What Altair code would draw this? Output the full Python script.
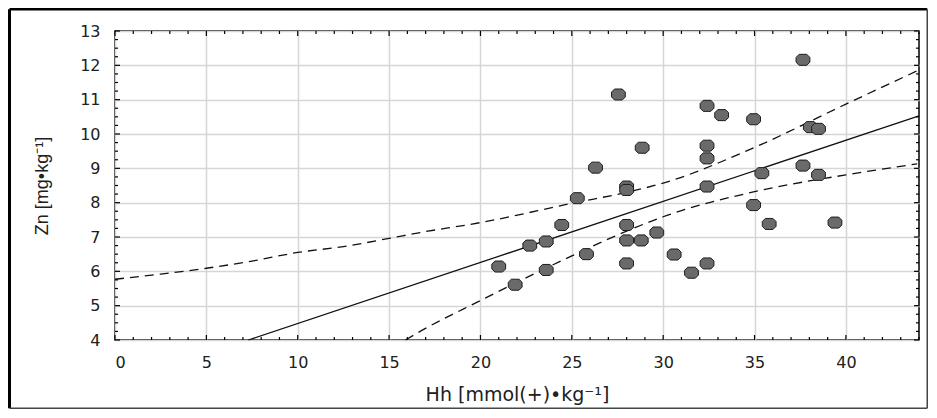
import altair as alt
import pandas as pd

# ---- data ----
hh = [21.0, 21.9, 22.7, 23.6, 23.6, 24.45, 25.3, 25.8, 26.3, 27.55,
      28.0, 28.0, 28.0, 28.0, 28.0, 28.8, 28.85, 29.65, 30.6, 31.55,
      32.4, 32.4, 32.4, 32.4, 32.4, 33.2, 34.95, 34.95, 35.4, 35.8,
      37.65, 37.65, 38.05, 38.5, 38.5, 39.4]
zn = [6.14, 5.61, 6.75, 6.87, 6.04, 7.35, 8.13, 6.5, 9.02, 11.15,
      8.47, 8.37, 7.35, 6.9, 6.23, 6.9, 9.6, 7.13, 6.49, 5.96,
      10.82, 9.66, 9.29, 8.47, 6.23, 10.55, 10.43, 7.93, 8.86, 7.38,
      12.16, 9.08, 10.2, 10.15, 8.81, 7.42]

fit_x = [7.3, 44.0]
fit_y = [4.0, 10.53]

upper_x = [0, 2.5, 5, 7.5, 10, 12.5, 15, 16.7, 20, 25, 28.4, 30, 35, 40, 43.9]
upper_y = [5.77, 5.92, 6.09, 6.30, 6.55, 6.72, 6.96, 7.13, 7.42, 7.98, 8.35, 8.57, 9.61, 10.87, 11.84]
lower_x = [15.9, 16.7, 20, 25, 28.4, 30, 35, 40, 43.9]
lower_y = [4.0, 4.25, 5.15, 6.45, 7.26, 7.59, 8.32, 8.81, 9.13]

x_labels = [0, 5, 10, 15, 20, 25, 30, 35, 40]
y_labels = [4, 5, 6, 7, 8, 9, 10, 11, 12, 13]
x_minor = list(range(0, 45))
y_minor = [4 + 0.25 * i for i in range(37)]

X_TITLE = "Hh [mmol(+)\u2022kg\u207b\u00b9]"
Y_TITLE = "Zn [mg\u2022kg\u207b\u00b9]"

X_MIN, X_MAX = 0, 44
Y_MIN, Y_MAX = 4, 13

# ---- tables ----
pts = pd.DataFrame({"hh": hh, "zn": zn})
fit = pd.DataFrame({"hh": fit_x, "zn": fit_y})
bands = pd.concat([
    pd.DataFrame({"hh": upper_x, "zn": upper_y, "band": "upper"}),
    pd.DataFrame({"hh": lower_x, "zn": lower_y, "band": "lower"}),
])
xt = pd.DataFrame({"v": x_minor})
yt = pd.DataFrame({"v": y_minor})

W, H = 804, 309
PAD = {"left": 107, "top": 23, "right": 9, "bottom": 69}

# tick lengths in pixels converted to data units
PX_X = (X_MAX - X_MIN) / W
PX_Y = (Y_MAX - Y_MIN) / H


def xs():
    return alt.Scale(domain=[X_MIN, X_MAX], nice=False, zero=False)


def ys():
    return alt.Scale(domain=[Y_MIN, Y_MAX], nice=False, zero=False)


LABEL_FONT = "DejaVu Sans"
LABEL_COLOR = "#202020"

main_x = alt.Axis(values=x_labels, grid=True, ticks=False, tickSize=0, domain=False,
                  labelPadding=14, labelFont=LABEL_FONT, labelFontSize=16,
                  labelColor=LABEL_COLOR, title=X_TITLE, titleFont=LABEL_FONT,
                  titleFontSize=19, titleFontWeight="normal", titleColor=LABEL_COLOR,
                  titleX=W / 2, titleY=60, titleBaseline="alphabetic", titleAlign="center",
                  gridColor="#d6d6d6", gridWidth=1.5)
main_y = alt.Axis(values=y_labels, grid=True, ticks=False, tickSize=0, domain=False,
                  labelPadding=15, labelFont=LABEL_FONT, labelFontSize=16,
                  labelColor=LABEL_COLOR, title=Y_TITLE, titleFont="Liberation Sans",
                  titleFontSize=18, titleFontWeight="normal", titleColor=LABEL_COLOR,
                  titleX=-68, titleY=H / 2, titleAngle=270, titleBaseline="alphabetic",
                  titleAlign="center", gridColor="#d6d6d6", gridWidth=1.5)

band_layer = alt.Chart(bands).mark_line(
    color="#111", strokeWidth=1.3, strokeDash=[9, 6], interpolate="monotone"
).encode(
    x=alt.X("hh:Q", scale=xs(), axis=main_x),
    y=alt.Y("zn:Q", scale=ys(), axis=main_y),
    detail="band:N",
)

fit_layer = alt.Chart(fit).mark_line(color="#111", strokeWidth=1.3).encode(
    x=alt.X("hh:Q", scale=xs(), axis=None),
    y=alt.Y("zn:Q", scale=ys(), axis=None),
)

# inward tick marks on the four sides of the plot frame
len_x = "(datum.v % 5 === 0 ? 5 : 3)"
len_y = "(datum.v % 1 === 0 ? 5 : 3)"

ticks_bottom = alt.Chart(xt).transform_calculate(
    a=f"{Y_MIN}", b=f"{Y_MIN} + {len_x} * {PX_Y}"
).mark_rule(color="#000", strokeWidth=1.2).encode(
    x=alt.X("v:Q", scale=xs(), axis=None),
    y=alt.Y("a:Q", scale=ys(), axis=None), y2="b:Q")
ticks_top = alt.Chart(xt).transform_calculate(
    a=f"{Y_MAX}", b=f"{Y_MAX} - {len_x} * {PX_Y}"
).mark_rule(color="#000", strokeWidth=1.2).encode(
    x=alt.X("v:Q", scale=xs(), axis=None),
    y=alt.Y("a:Q", scale=ys(), axis=None), y2="b:Q")
ticks_left = alt.Chart(yt).transform_calculate(
    a=f"{X_MIN}", b=f"{X_MIN} + {len_y} * {PX_X}"
).mark_rule(color="#000", strokeWidth=1.2).encode(
    y=alt.Y("v:Q", scale=ys(), axis=None),
    x=alt.X("a:Q", scale=xs(), axis=None), x2="b:Q")
ticks_right = alt.Chart(yt).transform_calculate(
    a=f"{X_MAX}", b=f"{X_MAX} - {len_y} * {PX_X}"
).mark_rule(color="#000", strokeWidth=1.2).encode(
    y=alt.Y("v:Q", scale=ys(), axis=None),
    x=alt.X("a:Q", scale=xs(), axis=None), x2="b:Q")

OCT = "M -0.55 -0.8 L 0.55 -0.8 L 1 -0.35 L 1 0.35 L 0.55 0.8 L -0.55 0.8 L -1 0.35 L -1 -0.35 Z"
pt_layer = alt.Chart(pts).mark_point(
    shape=OCT, size=190, filled=True, fill="#6a6a6a", stroke="#1e1e1e",
    strokeWidth=1, opacity=1, fillOpacity=1
).encode(
    x=alt.X("hh:Q", scale=xs(), axis=None),
    y=alt.Y("zn:Q", scale=ys(), axis=None),
)

one = pd.DataFrame({"k": [0]})
total_w = PAD["left"] + W + PAD["right"]
total_h = PAD["top"] + H + PAD["bottom"]
fl = -PAD["left"] + 1.5
fr = total_w - PAD["left"] - 0.75
ft = -PAD["top"] + 1.25
fb = total_h - PAD["top"] - 0.75
frame_left = alt.Chart(one).mark_rule(color="#000", strokeWidth=3).encode(
    x=alt.value(fl), y=alt.value(ft), y2=alt.value(fb))
frame_top = alt.Chart(one).mark_rule(color="#000", strokeWidth=2.5).encode(
    x=alt.value(fl), x2=alt.value(fr), y=alt.value(ft))
frame_right = alt.Chart(one).mark_rule(color="#444", strokeWidth=1.5).encode(
    x=alt.value(fr), y=alt.value(ft), y2=alt.value(fb))
frame_bottom = alt.Chart(one).mark_rule(color="#444", strokeWidth=1.5).encode(
    x=alt.value(fl), x2=alt.value(fr), y=alt.value(fb))

chart = alt.layer(
    band_layer, fit_layer, ticks_bottom, ticks_top, ticks_left, ticks_right, pt_layer,
    frame_left, frame_top, frame_right, frame_bottom
).resolve_scale(
    x="independent", y="independent"
).properties(
    width=W, height=H,
    autosize=alt.AutoSizeParams(type="none"),
    padding=PAD,
    background="white",
).configure_view(
    stroke="#000", strokeWidth=1.5
)

chart.save("out.html", embed_options={"renderer": "svg", "actions": False})
